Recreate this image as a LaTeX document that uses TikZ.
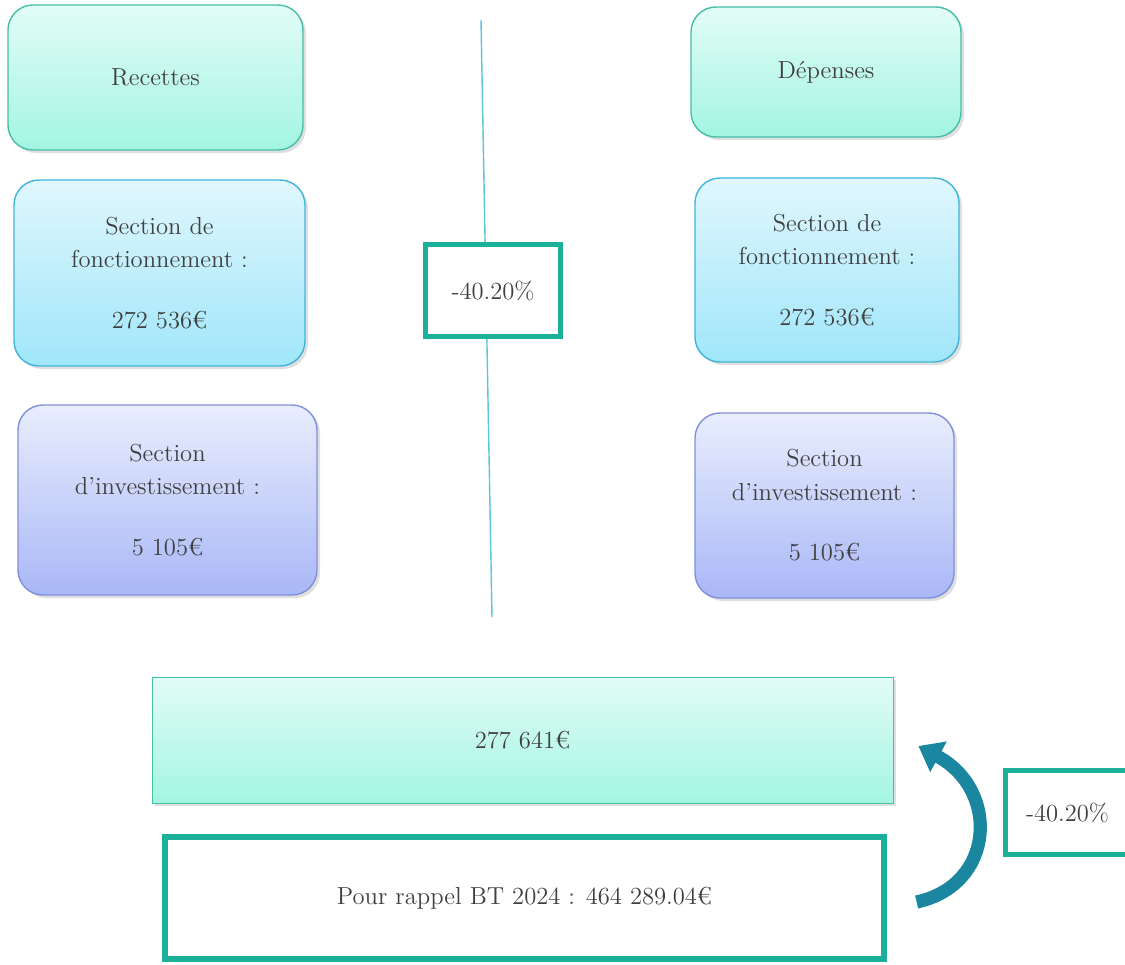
\documentclass[tikz,border=0pt]{standalone}
\usepackage{tikz}
\usetikzlibrary{shadows,arrows.meta}

\definecolor{mintTop}{HTML}{E2FCF6}
\definecolor{mintBot}{HTML}{A3F5E2}
\definecolor{mintLine}{HTML}{45BFA6}
\definecolor{skyTop}{HTML}{E0F7FD}
\definecolor{skyBot}{HTML}{A0E6FA}
\definecolor{skyLine}{HTML}{40B4DA}
\definecolor{lavTop}{HTML}{E8EEFD}
\definecolor{lavBot}{HTML}{AAB7F7}
\definecolor{lavLine}{HTML}{8090DA}
\definecolor{tealFrame}{HTML}{1BB09A}
\definecolor{splitLine}{HTML}{5BC5D9}
\definecolor{arrowTeal}{HTML}{1A86A0}
\definecolor{inkGray}{HTML}{404040}

\tikzset{
  every node/.style={text=inkGray, font=\fontsize{14}{19}\selectfont, align=center},
  softshadow/.style={drop shadow={opacity=0.25, shadow xshift=0.06cm, shadow yshift=-0.06cm}},
  mintbox/.style={draw=mintLine, thick, rounded corners=0.5cm, shading=axis,
    top color=mintTop, bottom color=mintBot, softshadow},
  skybox/.style={draw=skyLine, thick, rounded corners=0.5cm, shading=axis,
    top color=skyTop, bottom color=skyBot, softshadow},
  lavbox/.style={draw=lavLine, thick, rounded corners=0.5cm, shading=axis,
    top color=lavTop, bottom color=lavBot, softshadow},
  framebox/.style={draw=tealFrame, line width=3pt, fill=white},
  bendarrow/.style={draw=arrowTeal, line width=7.5pt,
    -{Triangle[width=19pt,length=13pt]}}
}

\begin{document}
\begin{tikzpicture}
\useasboundingbox (0,0) rectangle (22.5,-19.28);

% separator
\coordinate (top) at (9.62,-0.4);
\coordinate (bottom) at (9.84,-12.34);
\draw[splitLine, thick] (top) -- (bottom);

% recettes
\node[mintbox, minimum width=5.9cm, minimum height=2.9cm] (rec) at (3.11,-1.55) {Recettes};
\node[skybox, minimum width=5.82cm, minimum height=3.72cm] (recF) at (3.19,-5.46)
  {Section de\\fonctionnement :\\[1.1em]272 536€};
\node[lavbox, minimum width=5.98cm, minimum height=3.8cm] (recI) at (3.35,-10.0)
  {Section\\d’investissement :\\[1.1em]5 105€};

% depenses
\node[mintbox, minimum width=5.4cm, minimum height=2.6cm] (dep) at (16.52,-1.44) {Dépenses};
\node[skybox, minimum width=5.28cm, minimum height=3.68cm] (depF) at (16.54,-5.4)
  {Section de\\fonctionnement :\\[1.1em]272 536€};
\node[lavbox, minimum width=5.18cm, minimum height=3.7cm] (depI) at (16.49,-10.11)
  {Section\\d’investissement :\\[1.1em]5 105€};

\node[framebox, minimum width=2.7cm, minimum height=1.84cm] (pctMid) at (9.86,-5.81) {-40.20\%};

% totals
\node[draw=mintLine, shading=axis, top color=mintTop, bottom color=mintBot, softshadow,
  minimum width=14.82cm, minimum height=2.52cm] (total) at (10.45,-14.8) {277 641€};
\node[framebox, minimum width=14.38cm, minimum height=2.44cm] (rappel) at (10.49,-17.96)
  {Pour rappel BT 2024 : 464 289.04€};
\node[framebox, minimum width=2.48cm, minimum height=1.68cm] (pctRight) at (21.35,-16.25) {-40.20\%};

\draw[bendarrow] ([xshift=0.6cm,yshift=-0.08cm]rappel.east)
  .. controls (19.9,-17.7) and (20.0,-15.8) .. ([xshift=0.5cm,yshift=-0.12cm]total.east);
\end{tikzpicture}
\end{document}
